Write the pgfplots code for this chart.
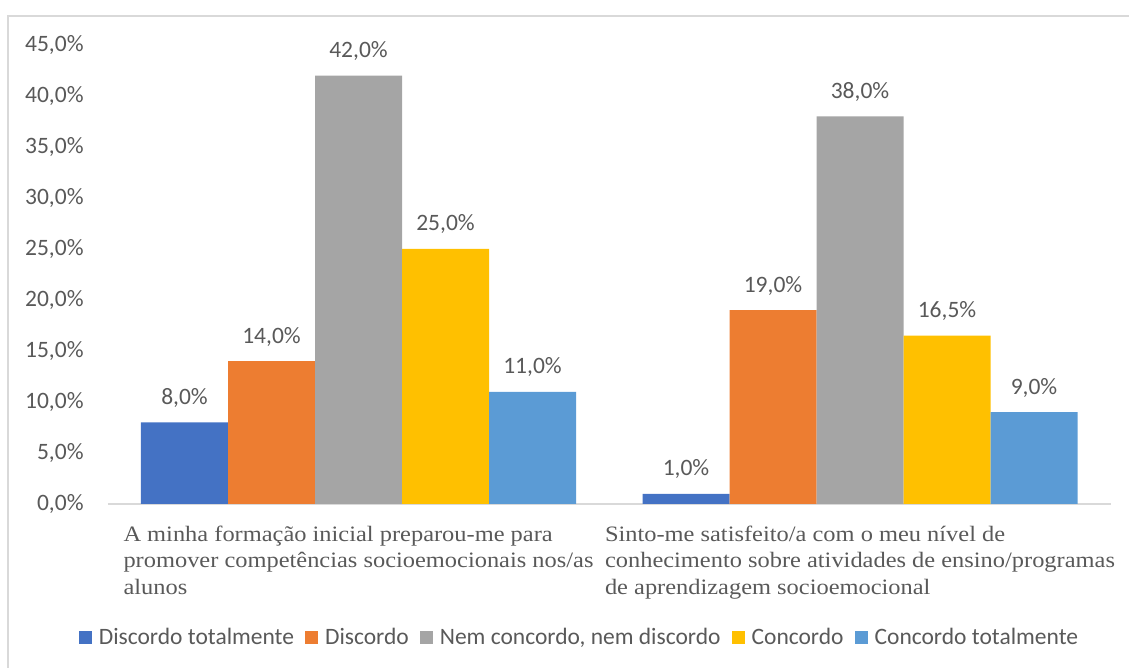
\documentclass[border=0pt]{standalone}
\usepackage{fontspec}
\setmainfont{Liberation Serif}
\newfontfamily\catfont[FakeStretch=1.11]{Liberation Serif}
\newfontfamily\carlito{Carlito}
\usepackage{pgfplots}
\pgfplotsset{compat=1.18}

\definecolor{c1}{HTML}{4472C4}
\definecolor{c2}{HTML}{ED7D31}
\definecolor{c3}{HTML}{A5A5A5}
\definecolor{c4}{HTML}{FFC000}
\definecolor{c5}{HTML}{5B9BD5}
\definecolor{txt}{HTML}{595959}
\definecolor{frame}{HTML}{D9D9D9}

\pgfplotsset{sq legend/.style={legend image code/.code={\fill[##1] (0pt,-6.5pt) rectangle (13pt,6.5pt);}}}

\begin{document}
\begin{tikzpicture}[x=1pt,y=1pt]
\useasboundingbox (0,0) rectangle (1129,668);
\draw[frame, line width=1.5pt] (8,-10) -- (8,652) -- (1140,652);
\begin{axis}[
  at={(107.75pt,164pt)}, anchor=south west,
  scale only axis, width=1003pt, height=459pt,
  ybar=0pt, bar width=87pt,
  xmin=-0.5, xmax=1.5, ymin=0, ymax=45,
  xtick={0,1},
  xticklabels={{A minha formação inicial preparou-me para\\promover competências socioemocionais nos/as\\alunos},
               {Sinto-me satisfeito/a com o meu nível de\\conhecimento sobre atividades de ensino/programas\\de aprendizagem socioemocional}},
  xticklabel style={anchor=north, align=left, inner sep=0pt, yshift=-21.5pt,
    font=\catfont\fontsize{22}{26.7}\selectfont, text=txt},
  ytick={0,5,...,45},
  yticklabel={\pgfmathprintnumber[fixed,fixed zerofill,precision=1,use comma,assume math mode=true]{\tick}\%},
  yticklabel style={anchor=east, inner sep=0pt, xshift=-24pt,
    font=\carlito\fontsize{23.5}{27}\selectfont, text=txt},
  major tick length=0pt,
  axis x line*=bottom, axis y line*=left,
  y axis line style={draw=none},
  x axis line style={draw=frame, line width=1.5pt},
  nodes near coords={\pgfmathprintnumber[fixed,fixed zerofill,precision=1,use comma,assume math mode=true]{\pgfplotspointmeta}\%},
  every node near coord/.append style={anchor=base, yshift=18pt,
    font=\carlito\fontsize{23.5}{27}\selectfont, text=txt},
  legend columns=5,
  legend style={at={(0.4693,-0.2898)}, anchor=center, draw=none, fill=none,
    inner sep=0pt, nodes={inner sep=0pt},
    font=\carlito\fontsize{23.5}{27}\selectfont, text=txt,
    /tikz/every odd column/.append style={column sep=7pt},
    /tikz/every even column/.append style={column sep=11pt}},
]
\addplot[fill=c1, draw=none, sq legend] coordinates {(0,8) (1,1)};
\addplot[fill=c2, draw=none, sq legend] coordinates {(0,14) (1,19)};
\addplot[fill=c3, draw=none, sq legend] coordinates {(0,42) (1,38)};
\addplot[fill=c4, draw=none, sq legend] coordinates {(0,25) (1,16.5)};
\addplot[fill=c5, draw=none, sq legend] coordinates {(0,11) (1,9)};
\legend{Discordo totalmente, Discordo, {Nem concordo, nem discordo}, Concordo, Concordo totalmente}
\end{axis}
\end{tikzpicture}
\end{document}
